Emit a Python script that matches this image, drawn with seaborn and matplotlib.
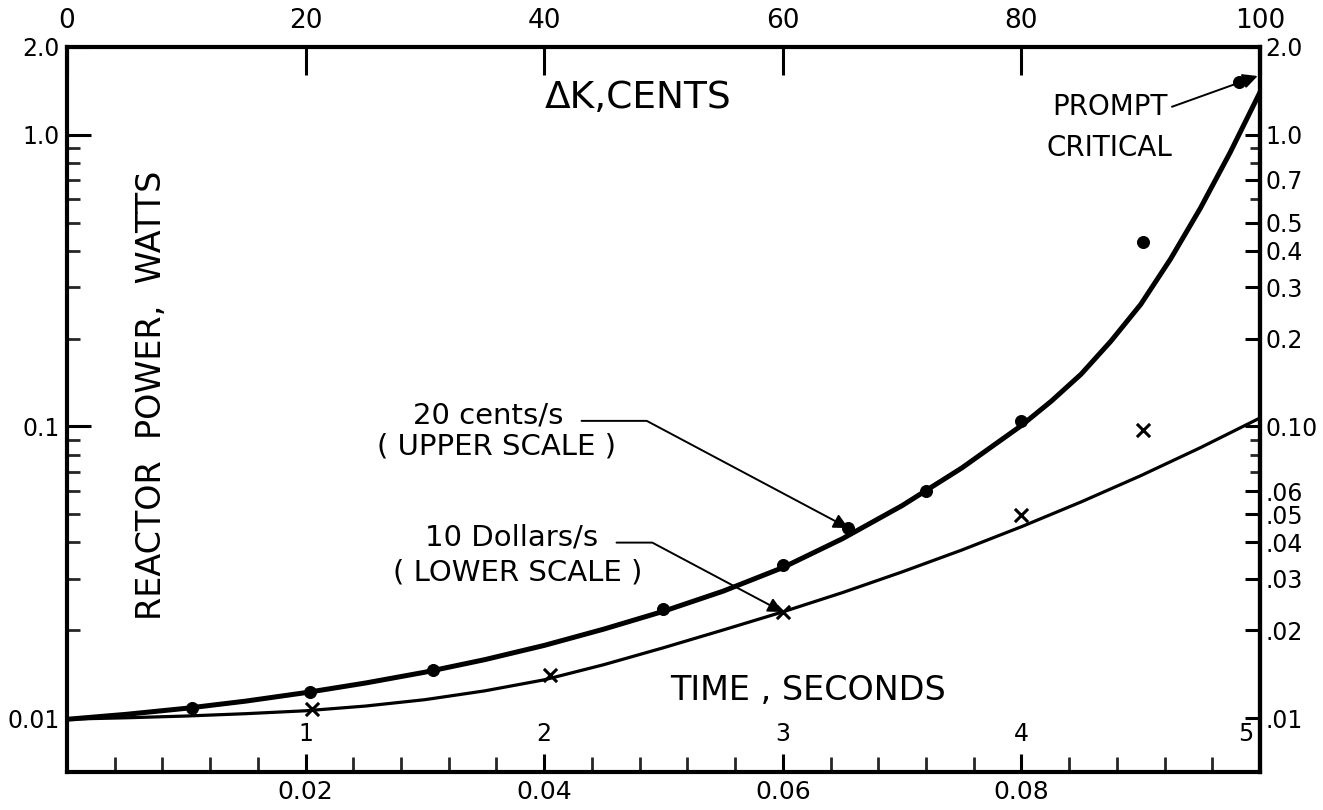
import matplotlib
matplotlib.use("Agg")
import matplotlib.pyplot as plt
from matplotlib.ticker import FixedLocator, FixedFormatter, NullFormatter
import seaborn as sns

# 20 cents/s ramp, plotted against the upper scale (delta K, cents)
cents_curve = [0, 5, 10, 15, 20, 25, 30, 35, 40, 45, 50, 55, 60, 65, 70, 75,
               80, 82.5, 85, 87.5, 90, 92.5, 95, 97.5, 100]
power_cents_curve = [0.0099, 0.0103, 0.0108, 0.01143, 0.01222, 0.01318,
                     0.01436, 0.01585, 0.01774, 0.02018, 0.02323, 0.02723,
                     0.0328, 0.0412, 0.0535, 0.072, 0.1007, 0.122, 0.151,
                     0.196, 0.262, 0.375, 0.56, 0.87, 1.40]
cents_points = [10.5, 20.4, 30.7, 50, 60, 65.5, 72, 80, 90.2, 98.2]
power_cents_points = [0.0108, 0.0123, 0.0146, 0.0237, 0.0335, 0.0448, 0.060,
                      0.104, 0.43, 1.52]

# 10 dollars/s ramp, plotted against the lower scale (time, s)
time_curve = [0, 0.005, 0.01, 0.015, 0.02, 0.025, 0.03, 0.035, 0.04, 0.045,
              0.05, 0.055, 0.06, 0.065, 0.07, 0.075, 0.08, 0.085, 0.09,
              0.095, 0.1]
power_time_curve = [0.00991, 0.01002, 0.01016, 0.01035, 0.01059, 0.01099,
                    0.01156, 0.01239, 0.01352, 0.01524, 0.01742, 0.02004,
                    0.02312, 0.02692, 0.0317, 0.03767, 0.04529, 0.05508,
                    0.06776, 0.08453, 0.1069]
time_points = [0.0205, 0.0405, 0.060, 0.080, 0.0902]
power_time_points = [0.0107, 0.0140, 0.0231, 0.0497, 0.097]

# axis ticks / labels
bottom_major = [0.02, 0.04, 0.06, 0.08]
bottom_labels = ["0.02", "0.04", "0.06", "0.08"]
bottom_minor = [0.004 * i for i in range(1, 25)]
top_major = [0, 20, 40, 60, 80, 100]
inner_time_pos = [0.02, 0.04, 0.06, 0.08, 0.1]
inner_time_labels = ["1", "2", "3", "4", "5"]
left_major = [0.01, 0.1, 1.0, 2.0]
left_labels = ["0.01", "0.1", "1.0", "2.0"]
decade_minor = [0.02, 0.03, 0.04, 0.05, 0.06, 0.07, 0.08, 0.09,
                0.2, 0.3, 0.4, 0.5, 0.6, 0.7, 0.8, 0.9]
right_major = [0.01, 0.02, 0.03, 0.04, 0.05, 0.06, 0.1, 0.2, 0.3, 0.4, 0.5,
               0.7, 1.0, 2.0]
right_labels = [".01", ".02", ".03", ".04", ".05", ".06", "0.10", "0.2",
                "0.3", "0.4", "0.5", "0.7", "1.0", "2.0"]
right_minor = [0.07, 0.08, 0.09, 0.6, 0.8, 0.9]

sns.set_theme(style="white")
plt.rcParams["font.family"] = ["DejaVu Sans"]
plt.rcParams["text.color"] = "black"

fig = plt.figure(figsize=(13.23, 8.10), dpi=100)
ax = fig.add_axes([0.0506, 0.0469, 0.9018, 0.8951])
ax.set_yscale("log")
ax_top = ax.twiny()

sns.lineplot(x=time_curve, y=power_time_curve, ax=ax, color="black", lw=2.3)
sns.scatterplot(x=time_points, y=power_time_points, ax=ax, marker="x",
                color="black", s=90, linewidth=2.2)
sns.lineplot(x=cents_curve, y=power_cents_curve, ax=ax_top, color="black", lw=3.6)
sns.scatterplot(x=cents_points, y=power_cents_points, ax=ax_top, color="black",
                s=75, edgecolor="black")

ax.set_xlim(0, 0.1)
ax_top.set_xlim(0, 100)
ax.set_ylim(0.00653, 2.0)
for a in (ax, ax_top):
    a.set_xlabel("")
    a.set_ylabel("")

for sp in ax.spines.values():
    sp.set_visible(True)
    sp.set_linewidth(3)
    sp.set_color("black")
for sp in ax_top.spines.values():
    sp.set_visible(False)

# bottom scale
ax.xaxis.set_major_locator(FixedLocator(bottom_major))
ax.xaxis.set_major_formatter(FixedFormatter(bottom_labels))
ax.xaxis.set_minor_locator(FixedLocator(bottom_minor))
ax.tick_params(axis="x", which="major", direction="in", length=13, width=2.2,
               labelsize=18, pad=6, colors="black", bottom=True)
ax.tick_params(axis="x", which="minor", direction="in", length=11, width=2,
               bottom=True)

# top scale (cents)
ax_top.xaxis.set_major_locator(FixedLocator(top_major))
ax_top.xaxis.set_minor_locator(FixedLocator([]))
ax_top.tick_params(axis="x", which="major", direction="in", length=20, width=2.2,
                   labelsize=19, pad=9, colors="black", top=True)

# left scale
ax.yaxis.set_major_locator(FixedLocator(left_major))
ax.yaxis.set_major_formatter(FixedFormatter(left_labels))
ax.yaxis.set_minor_locator(FixedLocator(decade_minor))
ax.yaxis.set_minor_formatter(NullFormatter())
ax.tick_params(axis="y", which="major", direction="in", length=17, width=2.2,
               labelsize=17, pad=5, colors="black", left=True)
ax.tick_params(axis="y", which="minor", direction="in", length=9, width=2,
               left=True)

# right scale
sec = ax.secondary_yaxis("right")
sec.yaxis.set_major_locator(FixedLocator(right_major))
sec.yaxis.set_major_formatter(FixedFormatter(right_labels))
sec.yaxis.set_minor_locator(FixedLocator(right_minor))
sec.yaxis.set_minor_formatter(NullFormatter())
sec.spines["right"].set_linewidth(3)
sec.spines["right"].set_color("black")
sec.tick_params(axis="y", which="major", direction="in", length=11, width=2.2,
                labelsize=17, pad=4, colors="black")
sec.tick_params(axis="y", which="minor", direction="in", length=7, width=2)

# inner time-in-seconds labels
for pos, lab in zip(inner_time_pos, inner_time_labels):
    ha = "right" if pos == inner_time_pos[-1] else "center"
    ax.annotate(lab, xy=(pos, 0.0088), xytext=(-5 if ha == "right" else 0, 0),
                textcoords="offset points", ha=ha, va="center", fontsize=17)

# free text
ax.text(0.479, 0.930, "\u0394K,CENTS", transform=ax.transAxes, ha="center",
        va="center", fontsize=27)
ax.text(0.0712, 0.520, "REACTOR  POWER,  WATTS", transform=ax.transAxes,
        rotation=90, ha="center", va="center", fontsize=24)
ax.text(0.621, 0.113, "TIME , SECONDS", transform=ax.transAxes, ha="center",
        va="center", fontsize=24)
ax.text(0.874, 0.861, "CRITICAL", transform=ax.transAxes, ha="center",
        va="center", fontsize=20)
ax.text(0.360, 0.4483, "( UPPER SCALE )", transform=ax.transAxes, ha="center",
        va="center", fontsize=21)
ax.text(0.378, 0.2745, "( LOWER SCALE )", transform=ax.transAxes, ha="center",
        va="center", fontsize=21)

arrow = dict(arrowstyle="-|>", color="black", lw=1.4, mutation_scale=22,
             shrinkB=0)
ax_top.annotate("PROMPT", xy=(99.8, 1.59), xytext=(0.874, 0.9172),
                textcoords="axes fraction", ha="center", va="center",
                fontsize=20,
                arrowprops=dict(arrow, shrinkA=1, relpos=(1, 0.45)))
ax_top.annotate("20 cents/s", xy=(cents_points[5], power_cents_points[5]),
                xytext=(0.4158, 0.481), textcoords="axes fraction",
                ha="right", va="baseline", fontsize=21,
                arrowprops=dict(arrow, shrinkA=11, relpos=(1, 0.3),
                                connectionstyle="angle,angleA=0,angleB=-28,rad=0"))
ax.annotate("10 Dollars/s", xy=(time_points[2], power_time_points[2]),
            xytext=(0.4451, 0.3131), textcoords="axes fraction",
            ha="right", va="baseline", fontsize=21,
            arrowprops=dict(arrow, shrinkA=11, relpos=(1, 0.3),
                            connectionstyle="angle,angleA=0,angleB=-28,rad=0"))

fig.savefig("out.png", dpi=100)
